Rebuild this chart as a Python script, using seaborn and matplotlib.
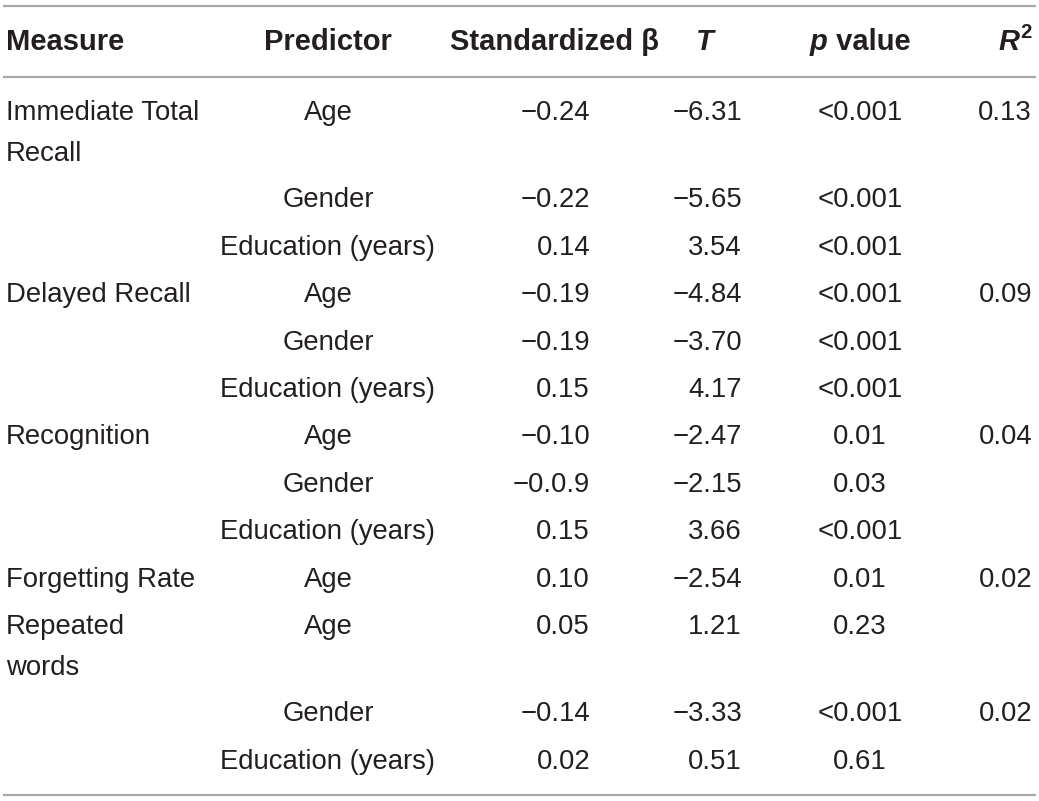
import matplotlib
matplotlib.use("Agg")
import matplotlib.pyplot as plt
import seaborn as sns

sns.set_theme(style="white")
plt.rcParams["font.family"] = ["Liberation Sans", "DejaVu Sans"]

# -----------------------------
# DATA
# -----------------------------
headers = ["Measure", "Predictor", "Standardized β", "T", "p value", "R2"]
measures = ["Immediate Total\nRecall", "", "", "Delayed Recall", "", "",
            "Recognition", "", "", "Forgetting Rate", "Repeated\nwords", "", ""]
predictors = ["Age", "Gender", "Education (years)", "Age", "Gender", "Education (years)",
              "Age", "Gender", "Education (years)", "Age", "Age", "Gender", "Education (years)"]
betas = ["\u22120.24", "\u22120.22", "0.14", "\u22120.19", "\u22120.19", "0.15",
         "\u22120.10", "\u22120.0.9", "0.15", "0.10", "0.05", "\u22120.14", "0.02"]
t_vals = ["\u22126.31", "\u22125.65", "3.54", "\u22124.84", "\u22123.70", "4.17",
          "\u22122.47", "\u22122.15", "3.66", "\u22122.54", "1.21", "\u22123.33", "0.51"]
p_vals = ["<0.001", "<0.001", "<0.001", "<0.001", "<0.001", "<0.001",
          "0.01", "0.03", "<0.001", "0.01", "0.23", "<0.001", "0.61"]
r2_vals = ["0.13", "", "", "0.09", "", "", "0.04", "", "", "0.02", "", "0.02", ""]

# -----------------------------
# LAYOUT
# -----------------------------
W, H = 1039, 801
fig = plt.figure(figsize=(W / 100, H / 100), dpi=100)
ax = fig.add_axes([0, 0, 1, 1])
ax.set_xlim(0, W)
ax.set_ylim(H, 0)
ax.axis("off")

ink = "#231f20"
fs = 19.8
hfs = 21.0
line_gap = 41
row_gap = 47.4

# column anchors for body (x, ha)
cols = [(6, "left"), (328, "center"), (590, "right"), (742, "right"), (860, "center"), (1032, "right")]

# rules
ax.hlines([6, 77, 795], 3, 1036, color="#a8a8a8", lw=1.6)

# header
hy = 42
ax.text(6, hy, headers[0], ha="left", va="center", fontsize=hfs, fontweight="bold", color=ink)
ax.text(328, hy, headers[1], ha="center", va="center", fontsize=hfs, fontweight="bold", color=ink)
ax.text(555, hy, headers[2], ha="center", va="center", fontsize=hfs, fontweight="bold", color=ink)
ax.text(705, hy, headers[3], ha="center", va="center", fontsize=hfs, fontweight="bold",
        fontstyle="italic", color=ink)

fig.canvas.draw()
r = fig.canvas.get_renderer()

# "p value" with italic p, centered as a group
tp = ax.text(0, hy, headers[4][0], ha="left", va="center", fontsize=hfs, fontweight="bold",
             fontstyle="italic", color=ink)
tv = ax.text(0, hy, "\u00a0" + headers[4][2:], ha="left", va="center", fontsize=hfs,
             fontweight="bold", color=ink)
wp = tp.get_window_extent(r).width
wv = tv.get_window_extent(r).width
x0 = 860 - (wp + wv) / 2
tp.set_x(x0)
tv.set_x(x0 + wp)

# R with superscript 2, right aligned
t2 = ax.text(1032, hy - 9, headers[5][1], ha="right", va="center", fontsize=hfs * 0.7,
             fontweight="bold", color=ink)
w2 = t2.get_window_extent(r).width
ax.text(1032 - w2 - 1, hy, headers[5][0], ha="right", va="center", fontsize=hfs,
        fontweight="bold", fontstyle="italic", color=ink)

# body
y = 113
for i in range(len(predictors)):
    lines = measures[i].split("\n") if measures[i] else []
    for k, part in enumerate(lines):
        ax.text(cols[0][0], y + k * line_gap, part, ha="left", va="center",
                fontsize=fs, color=ink)
    for (x, ha), val in zip(cols[1:], [predictors[i], betas[i], t_vals[i], p_vals[i], r2_vals[i]]):
        ax.text(x, y, val, ha=ha, va="center", fontsize=fs, color=ink)
    y += row_gap + max(0, len(lines) - 1) * (line_gap - 1)

fig.savefig("out.png", dpi=100)
